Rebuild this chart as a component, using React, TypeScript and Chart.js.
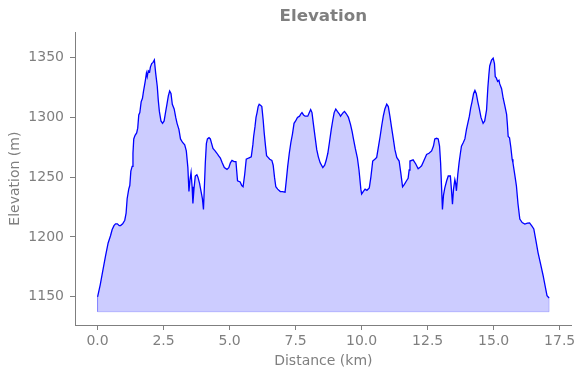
import React, { useEffect, useRef } from "react";
import { Chart, registerables } from "chart.js";

Chart.register(...registerables);

const distanceKm = [
  0.0, 0.1, 0.2, 0.3, 0.4, 0.49, 0.55, 0.62, 0.68, 0.75, 0.82, 0.87, 0.95, 1.03, 1.08, 1.12, 1.18, 1.22, 1.26, 1.31,
  1.34, 1.37, 1.42, 1.48, 1.52, 1.56, 1.6, 1.65, 1.7, 1.74, 1.78, 1.81, 1.85, 1.88, 1.92, 1.97, 2.0, 2.05, 2.1, 2.15,
  2.2, 2.26, 2.3, 2.34, 2.4, 2.46, 2.52, 2.58, 2.62, 2.68, 2.73, 2.78, 2.83, 2.9, 2.96, 3.01, 3.08, 3.14, 3.22, 3.3,
  3.36, 3.42, 3.46, 3.5, 3.54, 3.58, 3.61, 3.65, 3.7, 3.76, 3.8, 3.86, 3.92, 3.97, 4.01, 4.05, 4.08, 4.12, 4.16, 4.22,
  4.27, 4.32, 4.37, 4.45, 4.52, 4.58, 4.65, 4.72, 4.8, 4.9, 4.97, 5.03, 5.09, 5.17, 5.24, 5.27, 5.3, 5.4, 5.46, 5.51,
  5.57, 5.63, 5.72, 5.82, 5.88, 5.91, 5.96, 6.0, 6.04, 6.08, 6.12, 6.18, 6.22, 6.27, 6.31, 6.36, 6.4, 6.44, 6.52, 6.6,
  6.65, 6.7, 6.75, 6.82, 6.92, 7.0, 7.1, 7.15, 7.2, 7.26, 7.32, 7.38, 7.44, 7.5, 7.57, 7.65, 7.7, 7.74, 7.8, 7.86,
  7.96, 8.02, 8.07, 8.12, 8.17, 8.24, 8.3, 8.36, 8.43, 8.53, 8.6, 8.65, 8.72, 8.78, 8.85, 8.91, 8.96, 9.02, 9.08, 9.15,
  9.2, 9.25, 9.3, 9.35, 9.42, 9.5, 9.58, 9.64, 9.69, 9.76, 9.84, 9.9, 9.97, 10.0, 10.06, 10.13, 10.2, 10.29, 10.35, 10.42,
  10.5, 10.57, 10.64, 10.7, 10.76, 10.82, 10.88, 10.95, 11.01, 11.07, 11.13, 11.2, 11.26, 11.33, 11.42, 11.48, 11.55, 11.62, 11.7, 11.76,
  11.8, 11.83, 11.95, 12.05, 12.14, 12.2, 12.27, 12.36, 12.46, 12.55, 12.65, 12.72, 12.77, 12.84, 12.9, 12.95, 12.99, 13.03, 13.06, 13.1,
  13.15, 13.22, 13.28, 13.36, 13.4, 13.44, 13.48, 13.53, 13.56, 13.59, 13.64, 13.69, 13.74, 13.78, 13.85, 13.91, 13.97, 14.03, 14.08, 14.13,
  14.18, 14.24, 14.29, 14.34, 14.4, 14.45, 14.52, 14.6, 14.66, 14.73, 14.78, 14.82, 14.85, 14.92, 14.98, 15.03, 15.06, 15.1, 15.15, 15.2,
  15.23, 15.3, 15.36, 15.42, 15.49, 15.52, 15.55, 15.6, 15.65, 15.7, 15.73, 15.8, 15.86, 15.92, 15.99, 16.08, 16.18, 16.28, 16.36, 16.45,
  16.52, 16.6, 16.68, 16.78, 16.87, 16.95, 17.02, 17.1,
];

const elevationM = [
  1150, 1160, 1172, 1184, 1195, 1201, 1206, 1209.5, 1211, 1211, 1209.5, 1209.5, 1211, 1214, 1220, 1232, 1240, 1243, 1255, 1259,
  1270, 1282, 1285, 1287, 1291, 1302, 1304, 1313, 1316, 1322, 1327, 1331, 1337, 1334, 1339, 1338, 1342, 1345, 1346, 1348,
  1337, 1326, 1314, 1305, 1297, 1295, 1297, 1305, 1310, 1318, 1322, 1320, 1311, 1307, 1300, 1295, 1290, 1282, 1279, 1277,
  1272, 1258, 1238, 1248, 1254, 1242, 1228, 1240, 1251, 1252, 1250, 1245, 1238, 1232, 1223, 1245, 1262, 1278, 1282, 1283,
  1282, 1278, 1274, 1272, 1270, 1268, 1266, 1262, 1258, 1256.5, 1258, 1262, 1264, 1263, 1263, 1255, 1247, 1246, 1243, 1242,
  1252, 1265, 1266, 1267, 1277, 1284, 1292, 1300, 1304, 1309, 1311, 1310, 1309, 1298, 1287, 1276, 1268, 1267, 1265, 1264,
  1260, 1250, 1242, 1240, 1238, 1238, 1237.5, 1248, 1259, 1270, 1279, 1286, 1295, 1297, 1300, 1301, 1303, 1304, 1302, 1301,
  1301, 1304, 1306.5, 1304, 1295, 1283, 1273, 1267, 1262, 1258, 1260, 1263.5, 1270, 1279, 1290, 1298, 1304, 1307, 1305, 1303,
  1301, 1302.5, 1304, 1305, 1303, 1300, 1294, 1288, 1282, 1274, 1266, 1256, 1240, 1236, 1238, 1240, 1239, 1241, 1250, 1263.5,
  1265, 1266.5, 1276, 1284, 1293, 1301, 1307, 1311, 1309, 1301, 1292, 1282, 1273, 1266.5, 1263.5, 1254, 1242, 1244, 1247, 1249,
  1256, 1263.5, 1264.5, 1261, 1257, 1258, 1259.5, 1264, 1269, 1270, 1272, 1276, 1282, 1282.5, 1282, 1276, 1262, 1240, 1223, 1235,
  1241, 1247, 1251, 1251, 1240, 1227.5, 1240, 1248, 1245, 1238.6, 1252, 1262, 1270, 1276, 1279, 1282, 1290, 1296, 1301, 1308,
  1313, 1320, 1322.5, 1320, 1313, 1308, 1300, 1295, 1297, 1306, 1325, 1336, 1343, 1348, 1349.5, 1345, 1334, 1333, 1330, 1331,
  1328, 1324, 1316, 1310, 1302.5, 1294, 1284, 1283, 1275, 1265, 1262, 1252, 1243, 1228, 1215, 1212, 1210.8, 1211.5, 1211.7, 1209,
  1206.7, 1197, 1187, 1177, 1168, 1159, 1151, 1149,
];

const fillBase = 1137.5;
const xTickStep = 2.5;
const yTickStep = 50;
const titleText = "Elevation";
const xLabel = "Distance (km)";
const yLabel = "Elevation (m)";

const GREY = "#7f7f7f";

export default function App() {
  const canvasRef = useRef<HTMLCanvasElement | null>(null);

  useEffect(() => {
    const canvas = canvasRef.current;
    if (!canvas) return;
    Chart.defaults.font.family = "'DejaVu Sans', sans-serif";
    const profile = distanceKm.map((x, i) => ({ x, y: elevationM[i] }));
    const last = distanceKm.length - 1;
    const edge = [
      { x: distanceKm[0], y: elevationM[0] },
      { x: distanceKm[0], y: fillBase },
      { x: distanceKm[last], y: fillBase },
      { x: distanceKm[last], y: elevationM[last] },
    ];
    const chart = new Chart(canvas, {
      type: "line",
      data: {
        datasets: [
          {
            data: profile,
            borderColor: "#0000ff",
            borderWidth: 1.3,
            backgroundColor: "rgba(0,0,255,0.2)",
            fill: { value: fillBase },
            pointRadius: 0,
            tension: 0,
            order: 1,
          },
          {
            data: edge,
            borderColor: "rgba(0,0,255,0.2)",
            borderWidth: 1,
            fill: false,
            pointRadius: 0,
            tension: 0,
            order: 2,
          },
        ],
      },
      options: {
        animation: false,
        responsive: false,
        devicePixelRatio: 1,
        layout: { padding: { left: 0, right: 12.3, top: 0, bottom: 0 } },
        plugins: {
          legend: { display: false },
          tooltip: { enabled: false },
          title: {
            display: true,
            text: titleText,
            color: GREY,
            fullSize: false,
            font: { size: 16.7, weight: "bold" },
            padding: { top: 6.7, bottom: 5.6 },
          },
        },
        scales: {
          x: {
            type: "linear",
            min: -0.855,
            max: 17.955,
            afterFit: (s: any) => {
              s.height = 53;
            },
            ticks: {
              stepSize: xTickStep,
              includeBounds: false,
              color: GREY,
              font: { size: 14 },
              padding: 3,
              maxRotation: 0,
              callback: (v: any) => Number(v).toFixed(1),
            },
            grid: { drawOnChartArea: false, tickLength: 5, color: GREY },
            border: { display: true, color: GREY, width: 1 },
            title: {
              display: true,
              text: xLabel,
              color: GREY,
              font: { size: 14 },
              padding: { top: 0, bottom: 8.6 },
            },
          },
          y: {
            type: "linear",
            min: 1126.4,
            max: 1371.1,
            afterFit: (s: any) => {
              s.width = 75;
            },
            ticks: {
              stepSize: yTickStep,
              includeBounds: false,
              color: GREY,
              font: { size: 14 },
              padding: 6,
              callback: (v: any) => String(v),
            },
            grid: { drawOnChartArea: false, tickLength: 5, color: GREY },
            border: { display: true, color: GREY, width: 1 },
            title: {
              display: true,
              text: yLabel,
              color: GREY,
              font: { size: 14 },
              padding: { top: 6.6, bottom: 0 },
            },
          },
        },
      },
    });
    return () => chart.destroy();
  }, []);

  return (
    <div style={{ position: "fixed", left: 0, top: 0, width: 584, height: 378, background: "#fff" }}>
      <canvas ref={canvasRef} width={584} height={378} style={{ display: "block", width: 584, height: 378 }} />
    </div>
  );
}
